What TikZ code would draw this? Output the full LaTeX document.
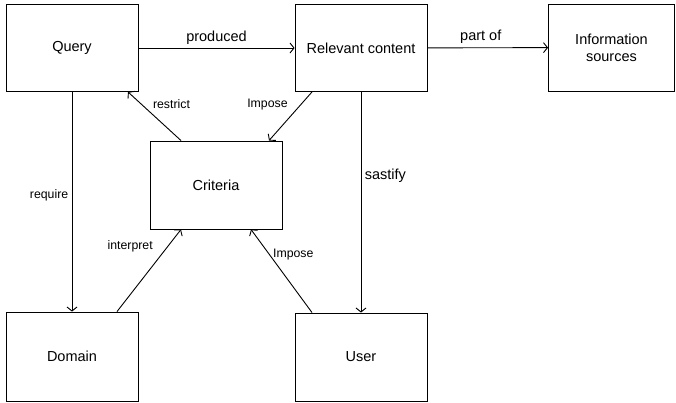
\documentclass[tikz,border=0pt]{standalone}
\usepackage{fontspec}
\setmainfont{Liberation Sans}
\usetikzlibrary{arrows,arrows.meta,positioning}
\tikzset{
  entity/.style={rectangle,draw=black,line width=0.9pt,minimum width=132pt,minimum height=87pt,align=center,font=\fontsize{14.5}{17}\selectfont},
  rel/.style={-{Straight Barb[length=4pt,width=10pt]},line width=0.9pt},
  small/.style={font=\fontsize{12.3}{14}\selectfont},
  big/.style={font=\fontsize{14.5}{17}\selectfont}
}

\begin{document}
\begin{tikzpicture}[x=1pt,y=-1pt]
\useasboundingbox (0,0) rectangle (676,402);
% \draw[help lines] (0,0) grid (676,402);
\node (query) [entity] at (72,48) {Query};
\node (relev) [entity] at (361,48) {Relevant content};
\node (info) [entity,minimum width=126pt] at (611.5,47.5) {Information\\sources};
\node (crit) [entity,minimum height=88pt] at (216,185) {Criteria};
\node (dom) [entity,minimum height=89pt] at (72,356.5) {Domain};
\node (user) [entity,minimum height=88pt] at (361,357) {User};
%
\path[rel](query) edge node[above,big] {produced} (relev);
\path[rel](relev) edge node[above,big,xshift=-7pt] {part of} (info);
\path[rel](query.south) edge node[left,small,pos=0.47] {require} (dom.north);
\path[rel](relev.south) edge node[right,big,pos=0.38] {sastify} (user.north);
\path[rel]([xshift=-35pt]crit.north) edge node[right,small,pos=0.75,xshift=8pt] {restrict} ([xshift=56pt]query.south);
\path[rel]([xshift=-49pt]relev.south) edge node[left,small,pos=0.2,xshift=-12pt,yshift=-3pt] {Impose} ([xshift=53pt]crit.north);
\path[rel]([xshift=45pt]dom.north) edge node[left,small,pos=0.82,xshift=-13pt,yshift=-2pt] {interpret} ([xshift=-35pt]crit.south);
\path[rel]([xshift=-49pt]user.north) edge node[right,small,pos=0.7] {Impose} ([xshift=35pt]crit.south);
\end{tikzpicture}
\end{document}
